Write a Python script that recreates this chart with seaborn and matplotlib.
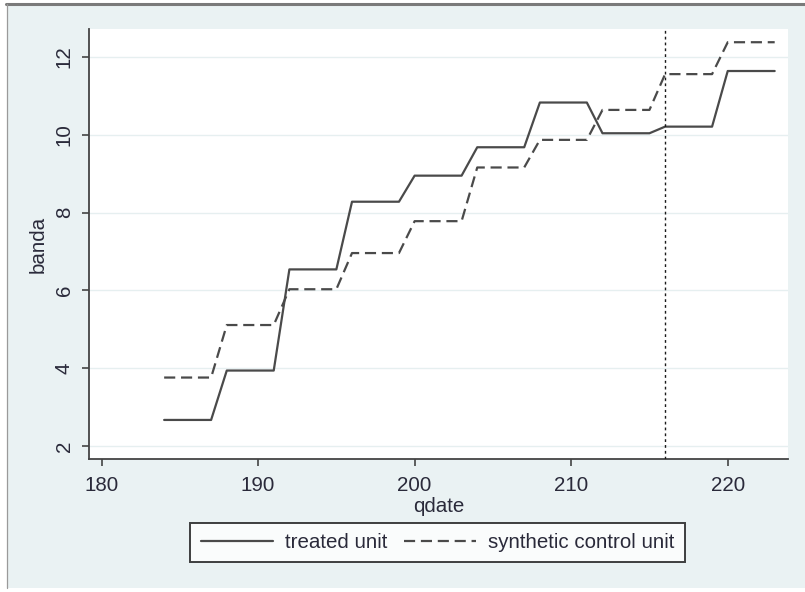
import numpy as np
import pandas as pd
import matplotlib
matplotlib.use("Agg")
import matplotlib.pyplot as plt
from matplotlib.patches import Rectangle
from matplotlib.lines import Line2D
import seaborn as sns

# ---- data ----
qdate = list(range(184, 224))
treated = [2.67, 2.67, 2.67, 2.67,
           3.94, 3.94, 3.94, 3.94,
           6.54, 6.54, 6.54, 6.54,
           8.28, 8.28, 8.28, 8.28,
           8.95, 8.95, 8.95, 8.95,
           9.68, 9.68, 9.68, 9.68,
           10.83, 10.83, 10.83, 10.83,
           10.04, 10.04, 10.04, 10.04,
           10.21, 10.21, 10.21, 10.21,
           11.64, 11.64, 11.64, 11.64]
synthetic = [3.76, 3.76, 3.76, 3.76,
             5.11, 5.11, 5.11, 5.11,
             6.03, 6.03, 6.03, 6.03,
             6.96, 6.96, 6.96, 6.96,
             7.78, 7.78, 7.78, 7.78,
             9.16, 9.16, 9.16, 9.16,
             9.87, 9.87, 9.87, 9.87,
             10.64, 10.64, 10.64, 10.64,
             11.56, 11.56, 11.56, 11.56,
             12.38, 12.38, 12.38, 12.38]
treatment_date = 216
xticks = [180, 190, 200, 210, 220]
yticks = [2, 4, 6, 8, 10, 12]
labels = ["treated unit", "synthetic control unit"]

df = pd.DataFrame({
    "qdate": qdate * 2,
    "banda": treated + synthetic,
    "unit": [labels[0]] * len(qdate) + [labels[1]] * len(qdate),
})

sns.set_style("white")
plt.rcParams["font.family"] = ["Liberation Sans", "DejaVu Sans"]

W, H = 805, 592
fig = plt.figure(figsize=(W / 100, H / 100), dpi=100, facecolor="white")

bg = "#EAF2F3"
fig.patches.append(Rectangle((7 / W, 1 - 588 / H), 1 - 7 / W, (588 - 5) / H,
                             transform=fig.transFigure, facecolor=bg,
                             edgecolor="none", zorder=-10))
fig.lines.append(Line2D([6 / W, 1], [1 - 4 / H, 1 - 4 / H], transform=fig.transFigure,
                        color="#7a7a7a", lw=2.2, zorder=-5))
fig.lines.append(Line2D([7 / W, 7 / W], [1 - 588 / H, 1 - 4 / H], transform=fig.transFigure,
                        color="#9a9a9a", lw=0.9, zorder=-5))

ax = fig.add_axes([89 / W, 1 - 459 / H, (788 - 89) / W, (459 - 29) / H])
ax.set_facecolor("white")

line_col = "#4a4a4a"
sns.lineplot(data=df, x="qdate", y="banda", hue="unit", style="unit",
             palette={labels[0]: line_col, labels[1]: line_col},
             dashes={labels[0]: "", labels[1]: (5, 2.6)},
             lw=1.6, ax=ax, legend=False)
ax.axvline(treatment_date, color="#1a1a1a", lw=1.0, ls=(0, (2.0, 2.2)), zorder=3)

ax.set_xlim(179.2, 223.85)
ax.set_ylim(1.666, 12.72)
ax.set_xticks(xticks)
ax.set_yticks(yticks)
ax.grid(axis="y", color="#E6EFF0", lw=1.0)
ax.grid(axis="x", visible=False)
ax.set_axisbelow(True)

for s in ["top", "right"]:
    ax.spines[s].set_visible(False)
for s in ["left", "bottom"]:
    ax.spines[s].set_color("#444444")
    ax.spines[s].set_linewidth(1.3)

fs = 14.8
ax.tick_params(axis="both", which="major", direction="out", length=5, width=1.2,
               color="#444444", labelsize=fs, labelcolor="#2a2a3a", left=True, bottom=True)
ax.tick_params(axis="x", pad=7)
ax.tick_params(axis="y", pad=6)
for lab in ax.get_yticklabels():
    lab.set_rotation(90)
    lab.set_va("center")

ax.set_xlabel("qdate", fontsize=fs, color="#2a2a3a", labelpad=1.5)
ax.set_ylabel("banda", fontsize=fs, color="#2a2a3a", labelpad=5)

handles = [Line2D([], [], color=line_col, lw=1.6),
           Line2D([], [], color=line_col, lw=1.6, dashes=(5, 2.6))]
leg = fig.legend(handles, labels, loc="center", bbox_to_anchor=(437.5 / W, 1 - 542.5 / H),
                 ncol=2, frameon=True, fancybox=False, edgecolor="#111111",
                 facecolor="white", fontsize=fs, handlelength=3.5, handletextpad=0.6,
                 columnspacing=0.8, borderpad=0.5, borderaxespad=0)
leg.get_frame().set_linewidth(1.4)
for t in leg.get_texts():
    t.set_color("#2a2a3a")

fig.savefig("out.png", dpi=100, facecolor="white")
